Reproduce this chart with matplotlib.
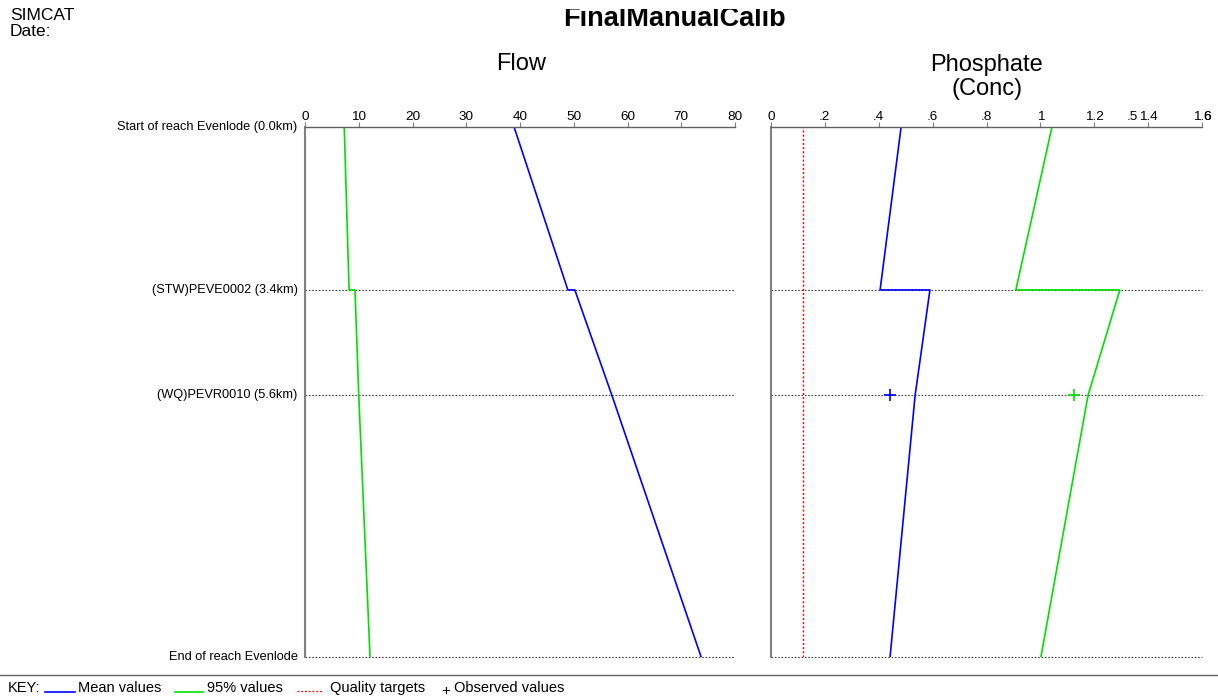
import matplotlib
matplotlib.use("Agg")
import matplotlib.pyplot as plt
from matplotlib.lines import Line2D
from matplotlib.transforms import Bbox

plt.rcParams['font.family'] = ['Liberation Sans', 'DejaVu Sans']

# ---- data ----
reach_labels = ["Start of reach Evenlode (0.0km)", "(STW)PEVE0002 (3.4km)",
                "(WQ)PEVR0010 (5.6km)", "End of reach Evenlode"]
reach_km = [0.0, 3.4, 5.6, 11.06]

# profile distances (a step at the STW discharge)
prof_km = [0.0, 3.4, 3.4, 5.6, 11.06]

flow_mean = [38.9, 48.9, 50.2, 57.1, 73.7]
flow_95 = [7.3, 8.2, 9.3, 10.0, 12.1]

phos_mean = [0.483, 0.405, 0.590, 0.535, 0.442]
phos_95 = [1.043, 0.909, 1.295, 1.177, 1.002]
phos_target = 0.12
obs_km = [5.6]
obs_phos_mean = [0.442]
obs_phos_95 = [1.125]

flow_ticks = [0, 10, 20, 30, 40, 50, 60, 70, 80]
flow_ticklabels = ["0", "10", "20", "30", "40", "50", "60", "70", "80"]
phos_ticks = [0, 0.2, 0.4, 0.6, 0.8, 1.0, 1.2, 1.4, 1.6]
phos_ticklabels = ["0", ".2", ".4", ".6", ".8", "1", "1.2", "1.4", "1.6"]

W, H = 1218, 700
fig = plt.figure(figsize=(W / 100, H / 100), dpi=100)

def fx(px):
    return px / W

def fy(py):
    return 1 - py / H

top, bot = 127, 657
ax1 = fig.add_axes([fx(305), fy(bot), fx(735) - fx(305), fy(top) - fy(bot)])
ax2 = fig.add_axes([fx(771), fy(bot), fx(1202) - fx(771), fy(top) - fy(bot)])

BLUE = "#0000ff"
GREEN = "#00e000"
GRAY = "#808080"
RED = "#ff0000"

for ax, xmax, ticks, tlabels in [(ax1, 80, flow_ticks, flow_ticklabels),
                                 (ax2, 1.6, phos_ticks, phos_ticklabels)]:
    ax.set_xlim(0, xmax)
    ax.set_ylim(reach_km[-1], 0)
    for s in ["right", "bottom"]:
        ax.spines[s].set_visible(False)
    ax.spines["left"].set_color(GRAY)
    ax.spines["left"].set_linewidth(1.5)
    ax.spines["top"].set_color("#606060")
    ax.spines["top"].set_linewidth(1.0)
    ax.xaxis.tick_top()
    ax.set_xticks(ticks)
    ax.set_xticklabels(tlabels, fontsize=9.7)
    ax.tick_params(axis="x", direction="out", length=3.5, color=GRAY, pad=-0.5)
    ax.set_yticks([])
    for km in reach_km[1:]:
        ax.axhline(km, color="#404040", linestyle=(0, (1.5, 1.5)), linewidth=0.8,
                   clip_on=False)

ax1.plot(flow_mean, prof_km, color=BLUE, linewidth=1.2)
ax1.plot(flow_95, prof_km, color=GREEN, linewidth=1.2)

ax2.plot(phos_mean, prof_km, color=BLUE, linewidth=1.2)
ax2.plot(phos_95, prof_km, color=GREEN, linewidth=1.2)
ax2.axvline(phos_target, color=RED, linestyle=(0, (1.5, 1.5)), linewidth=1.0)
ax2.plot(obs_phos_mean, obs_km, marker="+", color=BLUE, markersize=8, linestyle="none", mew=1.2)
ax2.plot(obs_phos_95, obs_km, marker="+", color=GREEN, markersize=8, linestyle="none", mew=1.2)

# overlapping extra tick text as in the reference
ax2.text(1.34, 1.0, ".5", transform=ax2.get_xaxis_transform(), fontsize=9.7, ha="center", va="bottom")
ax2.text(1.62, 1.0, "6", transform=ax2.get_xaxis_transform(), fontsize=9.7, ha="center", va="bottom")
fig.canvas.draw()
lab_y = ax2.get_xticklabels()[0].get_window_extent().y0
for t in ax2.texts[-2:]:
    t.set_position((t.get_position()[0], ax2.transAxes.inverted().transform((0, lab_y))[1]))

# reach labels on the left
for lab, km in zip(reach_labels, reach_km):
    ax1.text(-0.017, km, lab, transform=ax1.get_yaxis_transform(), ha="right",
             va="center", fontsize=9.2)

# titles
fig.text(fx(10), fy(16), "SIMCAT", fontsize=12.5, ha="left", va="center")
fig.text(fx(10), fy(31), "Date:", fontsize=12.5, ha="left", va="center")
title = fig.text(fx(674), fy(26), "FinalManualCalib", fontsize=19.5, fontweight="bold",
                 ha="center", va="baseline")
title.set_clip_box(Bbox([[0, 0], [W, H - 9]]))
title.set_clip_on(True)
fig.text(fx(521), fy(64), "Flow", fontsize=17, ha="center", va="center")
fig.text(fx(987), fy(77), "Phosphate\n(Conc)", fontsize=17, ha="center", va="center",
         linespacing=1.12)

# key
fig.add_artist(Line2D([0, 1], [fy(675), fy(675)], color="#606060", linewidth=1.0,
                      transform=fig.transFigure))
ky = fy(688)
fig.text(fx(8), ky, "KEY:", fontsize=10.5, ha="left", va="center")
fig.add_artist(Line2D([fx(45), fx(75)], [fy(692), fy(692)], color=BLUE, linewidth=1.2,
                      transform=fig.transFigure))
fig.text(fx(78), ky, "Mean values", fontsize=10.5, ha="left", va="center")
fig.add_artist(Line2D([fx(175), fx(203)], [fy(692), fy(692)], color=GREEN, linewidth=1.2,
                      transform=fig.transFigure))
fig.text(fx(207), ky, "95% values", fontsize=10.5, ha="left", va="center")
fig.add_artist(Line2D([fx(297), fx(322)], [fy(691), fy(691)], color=RED, linewidth=0.9,
                      linestyle=(0, (1.5, 1.5)), transform=fig.transFigure))
fig.text(fx(330), ky, "Quality targets", fontsize=10.5, ha="left", va="center")
fig.text(fx(446), fy(691), "+", fontsize=11, ha="center", va="center")
fig.text(fx(454), ky, "Observed values", fontsize=10.5, ha="left", va="center")

fig.savefig("out.png", dpi=100)
